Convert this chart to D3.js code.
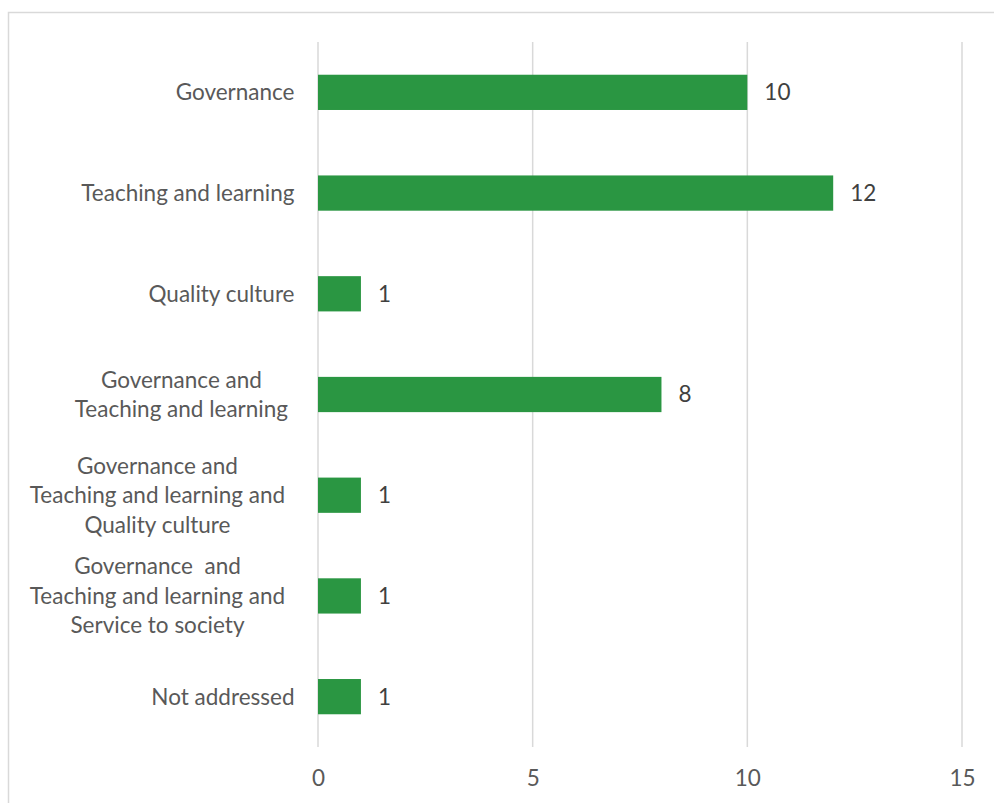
<!DOCTYPE html>
<html>
<head>
<meta charset="utf-8">
<script src="https://cdn.jsdelivr.net/npm/d3@7"></script>
<style>
  html, body { margin: 0; padding: 0; background: #fff; }
  svg { display: block; }
</style>
</head>
<body>
<svg id="chart" width="994" height="803"></svg>
<script>
// Topic categories (multi-line labels split on "|") and their counts
const categories = [
  "Governance",
  "Teaching and learning",
  "Quality culture",
  "Governance and|Teaching and learning",
  "Governance and|Teaching and learning and|Quality culture",
  "Governance  and|Teaching and learning and|Service to society",
  "Not addressed"
];
const counts = [10, 12, 1, 8, 1, 1, 1];
const tickValues = [0, 5, 10, 15];

const FONT = "Lato, 'Open Sans', sans-serif";
const FS = "22.5px";
const svg = d3.select("#chart");

// Chart frame
svg.append("rect")
  .attr("x", 8.5).attr("y", 12.5)
  .attr("width", 994).attr("height", 803)
  .attr("fill", "#fff")
  .attr("stroke", "#d9d9d9")
  .attr("stroke-width", 1.5);

const plot = { left: 318, right: 962, top: 42, bottom: 747 };

const x = d3.scaleLinear().domain([0, 15]).range([plot.left, plot.right]);
const y = d3.scaleBand()
  .domain(categories)
  .range([plot.top, plot.bottom])
  .paddingInner(0.65)
  .paddingOuter(0.325);

// Vertical gridlines
svg.append("g")
  .selectAll("line")
  .data(tickValues)
  .join("line")
  .attr("x1", d => x(d)).attr("x2", d => x(d))
  .attr("y1", plot.top).attr("y2", plot.bottom)
  .attr("stroke", "#d9d9d9")
  .attr("stroke-width", 1.5);

// X axis tick labels
const xAxis = d3.axisBottom(x).tickValues(tickValues).tickSize(0).tickPadding(0);
const gx = svg.append("g")
  .attr("transform", `translate(0, ${plot.bottom})`)
  .call(xAxis);
gx.select(".domain").remove();
gx.selectAll("text")
  .attr("y", 31)
  .attr("dy", "0.35em")
  .attr("fill", "#595959")
  .style("font-family", FONT)
  .style("font-size", FS);

// Bars
svg.append("g")
  .selectAll("rect")
  .data(categories)
  .join("rect")
  .attr("x", x(0))
  .attr("y", d => y(d))
  .attr("width", (d, i) => x(counts[i]) - x(0))
  .attr("height", y.bandwidth())
  .attr("fill", "#2a9642");

// Value labels
svg.append("g")
  .selectAll("text")
  .data(categories)
  .join("text")
  .attr("x", (d, i) => x(counts[i]) + 17)
  .attr("y", d => y(d) + y.bandwidth() / 2)
  .attr("dy", "0.35em")
  .attr("fill", "#404040")
  .style("font-family", FONT)
  .style("font-size", FS)
  .text((d, i) => counts[i]);

// Category labels: lines centred within their block, block right-aligned near the axis
const lineH = 29.5;
const labelRight = 294.5;
const wrapRight = 288;
const measure = svg.append("text")
  .style("font-family", FONT)
  .style("font-size", FS)
  .style("white-space", "pre")
  .attr("visibility", "hidden");
const widthOf = s => { measure.text(s); return measure.node().getComputedTextLength(); };

const labels = svg.append("g");
categories.forEach(d => {
  const lines = d.split("|");
  const cy = y(d) + y.bandwidth() / 2;
  const t = labels.append("text")
    .attr("fill", "#595959")
    .style("font-family", FONT)
    .style("font-size", FS)
    .style("white-space", "pre");
  if (lines.length === 1) {
    t.attr("text-anchor", "end")
      .attr("x", labelRight)
      .attr("y", cy)
      .attr("dy", "0.35em")
      .text(d);
    return;
  }
  // wrapped lines keep their trailing space when measuring the block width
  const blockW = d3.max(lines, (ln, i) => widthOf(i < lines.length - 1 ? ln + " " : ln));
  const cx = wrapRight - blockW / 2;
  t.attr("text-anchor", "middle");
  lines.forEach((ln, i) => {
    t.append("tspan")
      .attr("x", cx)
      .attr("y", cy + (i - (lines.length - 1) / 2) * lineH)
      .attr("dy", "0.35em")
      .text(ln);
  });
});
measure.remove();
</script>
</body>
</html>
